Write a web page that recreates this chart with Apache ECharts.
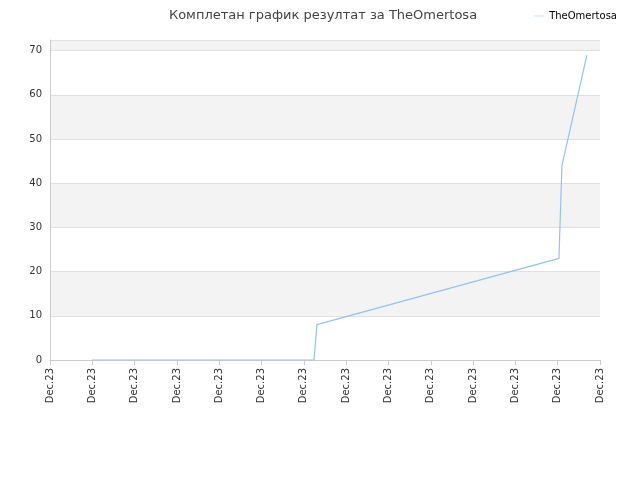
<!DOCTYPE html>
<html><head><meta charset="utf-8">
<script src="https://cdn.jsdelivr.net/npm/echarts@6/dist/echarts.min.js"></script>
<style>html,body{margin:0;padding:0}#c{width:640px;height:480px}</style>
</head><body><div id="c"></div>
<script>
const xTickLabels = Array(14).fill('Dec.23');
const xValues = [0.99, 6.24, 6.31, 12.03, 12.1, 12.69];
const yValues = [0, 0, 8, 23, 44, 69];
const seriesName = 'TheOmertosa';
const chart = echarts.init(document.getElementById('c'));
chart.setOption({
  animation:false,
  title:{text:'Комплетан график резултат за TheOmertosa',left:318,textAlign:'center',top:4,textStyle:{fontSize:13,fontWeight:'normal',color:'#444',fontFamily:'DejaVu Sans'}},
  legend:{right:18,top:6,icon:'path://M0,5L20,5L20,6L0,6Z',itemWidth:10,itemHeight:4,textStyle:{fontSize:10,color:'#000',fontFamily:'DejaVu Sans'},data:[seriesName]},
  grid:{left:50,right:40,top:40,bottom:120},
  xAxis:{type:'value',min:0,max:13,interval:1,
    axisLine:{lineStyle:{color:'#ccc'}},axisTick:{show:true,lineStyle:{color:'#ccc'}},
    splitLine:{show:false},
    axisLabel:{rotate:90,fontSize:10,color:'#333',fontFamily:'DejaVu Sans',formatter:(v,i)=>xTickLabels[Math.round(v)]}},
  yAxis:{type:'value',min:0,max:72.4,interval:10,
    axisLine:{show:true,lineStyle:{color:'#ccc'}},axisTick:{show:false},
    axisLabel:{fontSize:10,color:'#333',fontFamily:'DejaVu Sans',showMaxLabel:false},
    splitLine:{lineStyle:{color:'#e0e0e0'}},
    splitArea:{show:true,areaStyle:{color:['#ffffff','#f3f3f3']}}},
  series:[{name:seriesName,type:'line',showSymbol:false,lineStyle:{color:'#90c4f0',width:1.2},itemStyle:{color:'#90c4f0'},
    data:xValues.map((x,i)=>[x,yValues[i]])}]
});
</script></body></html>
